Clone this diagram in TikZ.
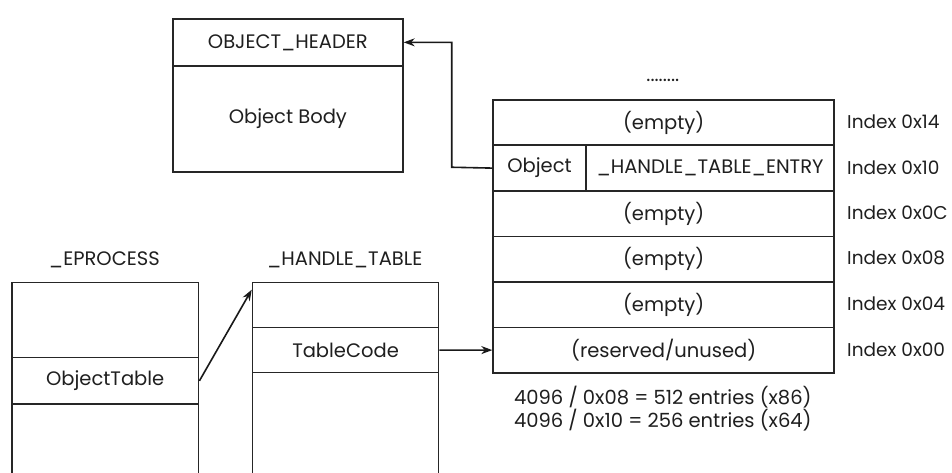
\documentclass[tikz,border=0pt]{standalone}
\usepackage{fontspec}
\setmainfont{Poppins}
\usetikzlibrary{arrows.meta}
\begin{document}
\begin{tikzpicture}[x=1pt,y=-1pt,
  txt/.style={font=\fontsize{19.5}{23}\selectfont,text=black!88},
  cell/.style={draw=black!85,line width=1.7pt,inner sep=0pt,anchor=north west,txt},
  lbl/.style={inner sep=0pt,txt},
  idx/.style={lbl,anchor=west,font=\fontsize{18.5}{22}\selectfont},
  ptr/.style={draw=black!90,line width=1.6pt,-{Stealth[length=11pt,width=8pt]}}]
\useasboundingbox (0,0) rectangle (952,473);
\clip (0,0) rectangle (952,473);
\fill[white] (0,0) rectangle (952,473);

% object header and body
\node[cell,minimum width=230pt,minimum height=47pt] (hdr) at (172,18) {OBJECT\_HEADER};
\node[cell,minimum width=230pt,minimum height=106.5pt] (body) at (172,65) {Object Body};

% handle table entries
\node[lbl] (dots) at (662.8,80) {........};
\node[cell,minimum width=341pt,minimum height=45.5pt] (r14) at (492.3,99) {(empty)};
\node[cell,minimum width=92.7pt,minimum height=45.5pt] (objcell) at (492.3,144.5) {Object};
\node[cell,minimum width=248.3pt,minimum height=45.5pt] (entry) at (585,144.5) {\_HANDLE\_TABLE\_ENTRY};
\node[cell,minimum width=341pt,minimum height=45.5pt] (r0c) at (492.3,190) {(empty)};
\node[cell,minimum width=341pt,minimum height=45.5pt] (r08) at (492.3,235.5) {(empty)};
\node[cell,minimum width=341pt,minimum height=45.5pt] (r04) at (492.3,281) {(empty)};
\node[cell,minimum width=341pt,minimum height=45.5pt] (r00) at (492.3,326.5) {(reserved/unused)};

\node[idx] (i14) at (847,121.75) {Index 0x14};
\node[idx] (i10) at (847,167.25) {Index 0x10};
\node[idx] (i0c) at (847,212.75) {Index 0x0C};
\node[idx] (i08) at (847,258.25) {Index 0x08};
\node[idx] (i04) at (847,303.75) {Index 0x04};
\node[idx] (i00) at (847,349.25) {Index 0x00};

\node[lbl,align=center] (note) at (662.8,408.5) {4096 / 0x08 = 512 entries (x86)\\4096 / 0x10 = 256 entries (x64)};

% _EPROCESS
\node[lbl] (eplbl) at (104.35,260) {\_EPROCESS};
\node[cell,minimum width=186.7pt,minimum height=75pt] (ep1) at (11,281.7) {};
\node[cell,minimum width=186.7pt,minimum height=46.6pt] (ep2) at (11,356.7) {ObjectTable};
\node[cell,minimum width=186.7pt,minimum height=90pt] (ep3) at (11,403.3) {};

% _HANDLE_TABLE
\node[lbl] (htlbl) at (344.7,260) {\_HANDLE\_TABLE};
\node[cell,minimum width=186pt,minimum height=45pt] (ht1) at (251.7,281.7) {};
\node[cell,minimum width=186pt,minimum height=45pt] (ht2) at (251.7,326.7) {TableCode};
\node[cell,minimum width=186pt,minimum height=120pt] (ht3) at (251.7,371.7) {};

% pointers
\coordinate (bend) at (451.7,167.25);
\draw[ptr] (objcell.west) -- (bend) |- (hdr.east);
\draw[ptr] (ep2.east) -- ([yshift=-8pt]ht1.north west);
\draw[ptr] (ht2.east) -- (r00.west);
\end{tikzpicture}
\end{document}
